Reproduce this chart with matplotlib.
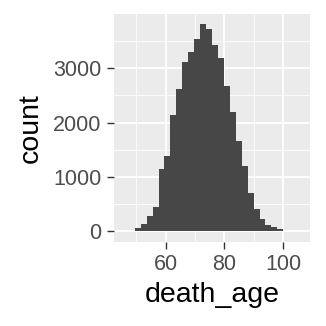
import numpy as np
import matplotlib
matplotlib.use('Agg')
import matplotlib.pyplot as plt
from matplotlib.ticker import MultipleLocator

# histogram of death_age (30 bins)
bin_start = 45.5
bin_width = 2.02
counts = [3, 12, 60, 141, 285, 455, 1147, 1387, 2147, 2620,
          3104, 3301, 3528, 3804, 3724, 3417, 3190, 2675, 2196, 1663,
          1196, 712, 415, 231, 122, 79, 35, 7, 3, 1]
x_ticks = [60, 80, 100]
y_ticks = [0, 1000, 2000, 3000]

plt.rcParams['font.family'] = ['Liberation Sans', 'DejaVu Sans']

fig = plt.figure(figsize=(3.26, 3.26), dpi=100)
ax = fig.add_axes([114/326, 1 - 241.7/326, 196/326, 227.7/326])

edges = bin_start + bin_width * np.arange(len(counts) + 1)
ax.bar(edges[:-1], counts, width=bin_width, align='edge', color='#474747', linewidth=0)

lo, hi = edges[0], edges[-1]
pad = 0.05 * (hi - lo)
ax.set_xlim(lo - pad, hi + pad)
ymax = max(counts)
ax.set_ylim(-0.05 * ymax, ymax * 1.05)

ax.set_facecolor('#EBEBEB')
ax.set_axisbelow(True)
ax.set_xticks(x_ticks)
ax.set_yticks(y_ticks)
ax.xaxis.set_minor_locator(MultipleLocator(10))
ax.yaxis.set_minor_locator(MultipleLocator(500))
ax.grid(which='major', color='white', linewidth=1.3)
ax.grid(which='minor', color='white', linewidth=0.6)
for s in ax.spines.values():
    s.set_visible(False)

ax.tick_params(which='major', length=5, width=1.0, color='#333333',
               labelsize=15.5, labelcolor='#4D4D4D')
ax.tick_params(axis='y', pad=4)
ax.tick_params(axis='x', pad=4)
ax.tick_params(which='minor', length=0)

ax.set_xlabel('death_age', fontsize=20.5, labelpad=5)
ax.set_ylabel('count', fontsize=20.5, labelpad=7)

fig.savefig('out.png', dpi=100)
